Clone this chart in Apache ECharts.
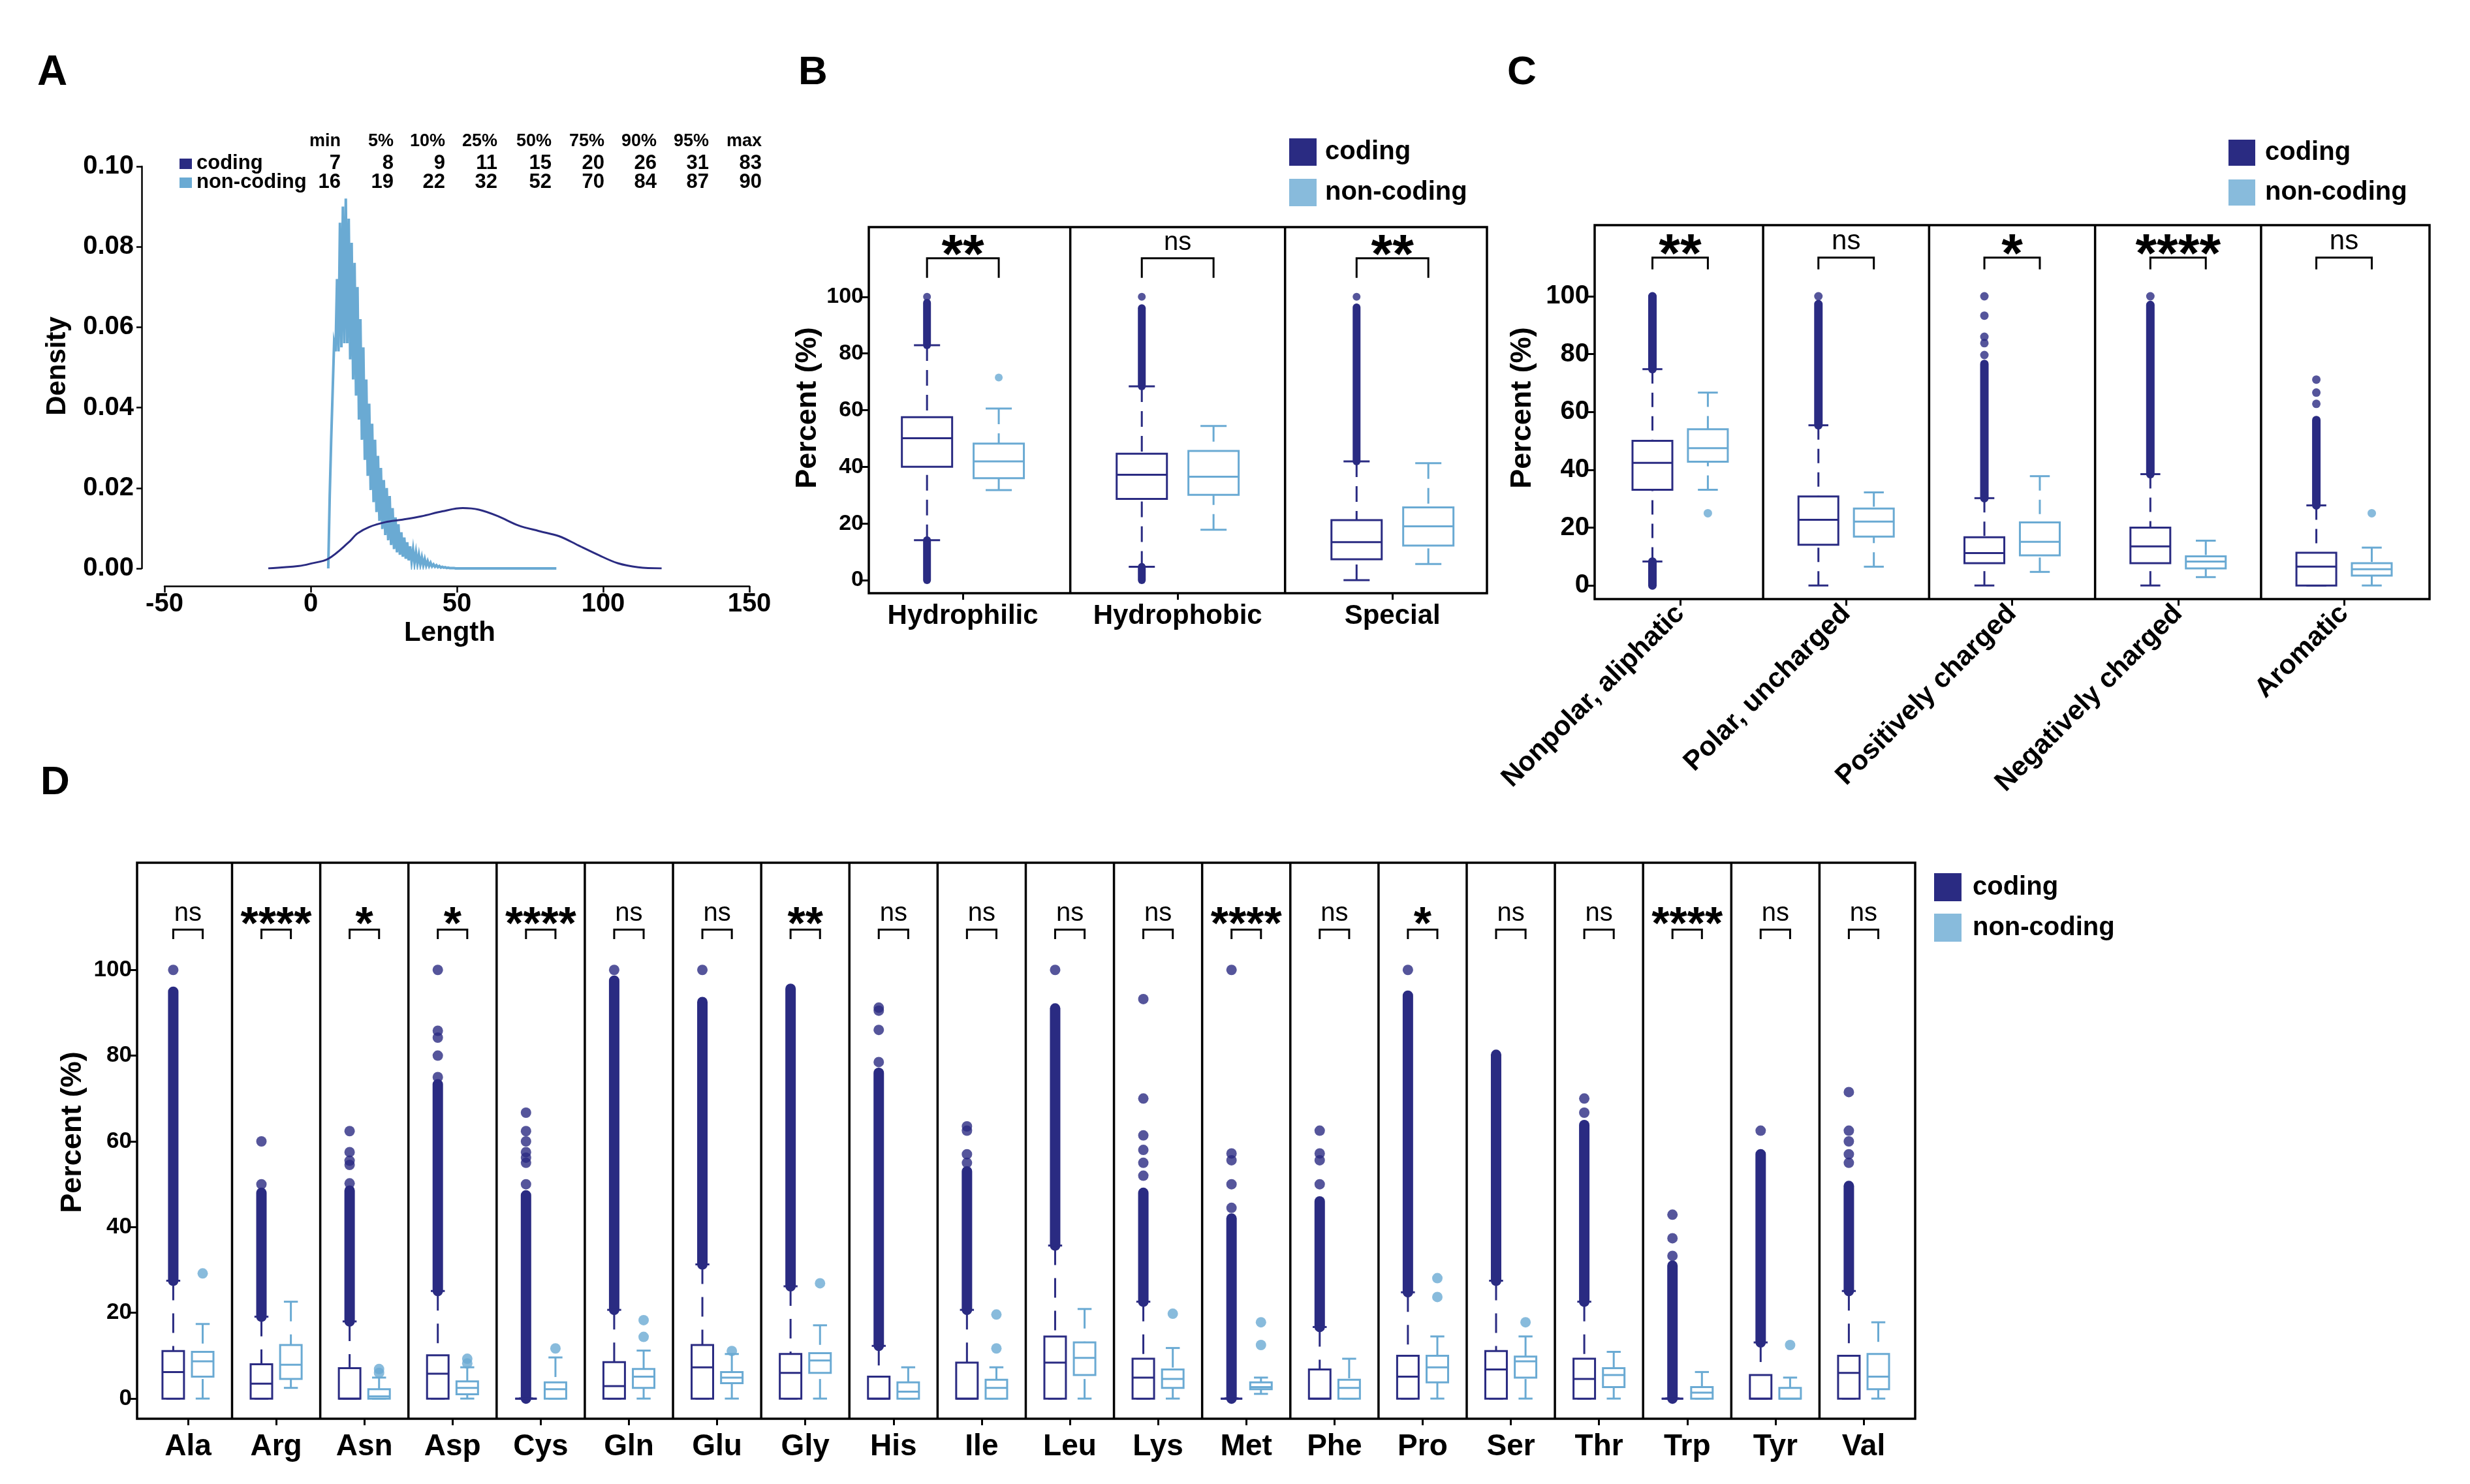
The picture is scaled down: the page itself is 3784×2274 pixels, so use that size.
<!DOCTYPE html>
<html><head><meta charset="utf-8">
<script src="https://cdn.jsdelivr.net/npm/echarts@6/dist/echarts.min.js"></script>
<style>html,body{margin:0;padding:0;background:#fff}#c{width:3784px;height:2274px}</style>
</head><body><div id="c"></div>
<script>
// ================= DATA =================
// Panel A: length distribution table
const statHeaders = ['min','5%','10%','25%','50%','75%','90%','95%','max'];
const codingStats = [7,8,9,11,15,20,26,31,83];
const noncodingStats = [16,19,22,32,52,70,84,87,90];
// Panel A: density curves
const codingDensityX = [-14.5,-4,0,6,13,16,20,25.5,31,38,45,52,57.5,64,71,78,85,91.6,98.5,105,112,120];
const codingDensityY = [0,0.0006,0.0012,0.0024,0.0065,0.0087,0.0103,0.0115,0.0121,0.013,0.0142,0.015,0.0146,0.013,0.0107,0.0093,0.008,0.0057,0.0033,0.0013,0.0003,0];
// non-coding curve oscillates: peaks at whole lengths, troughs between them
const noncodingPeakX = [6,7,8,9,10,11,12,13,14,15,16,17,18,19,20,21,22,23,24,25,26,27,28,29,30,31,32,33,34,35,36,37,38,39,40,41,42,43,44,45,46,47,48,49,50];
const noncodingPeakY = [0,0.032,0.056,0.072,0.086,0.09,0.092,0.087,0.081,0.076,0.07,0.062,0.055,0.047,0.041,0.036,0.032,0.028,0.025,0.022,0.02,0.018,0.015,0.0127,0.011,0.009,0.0077,0.0065,0.0055,0.0047,0.004,0.0034,0.0028,0.0023,0.0018,0.0014,0.001,0.0008,0.0006,0.0004,0.0003,0.0002,0.0001,0.0001,0];
const noncodingTroughX = [6.5,7.5,8.5,9.5,10.5,11.5,12.5,13.5,14.5,15.5,16.5,17.5,18.5,19.5,20.5,21.5,22.5,23.5,24.5,25.5,26.5,27.5,28.5,29.5,30.5,31.5,32.5,33.5,34.5,35.5,36.5,37.5,38.5,39.5,40.5,41.5,42.5,43.5,44.5,45.5,46.5,47.5,48.5,49.5];
const noncodingTroughY = [0.018,0.044,0.054,0.054,0.055,0.056,0.056,0.052,0.047,0.043,0.037,0.032,0.027,0.023,0.0195,0.0165,0.014,0.0118,0.0098,0.0083,0.007,0.0058,0.0048,0.004,0.0034,0.0029,0.0024,0.002,0.0017,0.0014,0.0012,0.001,0.0008,0.0007,0.0006,0.0005,0.0004,0.0003,0.0002,0.0002,0.0001,0.0001,0.0001,0];
const noncodingTailX = [60,84];
const noncodingTailY = [0,0];
const lengthTicks = [-50,0,50,100,150];
const densityTicks = [0,0.02,0.04,0.06,0.08,0.10];
const percentTicks = [0,20,40,60,80,100];

// Panel B  (box: [lower whisker, Q1, median, Q3, upper whisker])
const groupsB = ['Hydrophilic','Hydrophobic','Special'];
const codingBoxB = [[14.1,40,50.1,57.5,82.9],[4.7,28.7,37.2,44.6,68.4],[0,7.4,13.4,21.2,41.9]];
const noncodingBoxB = [[31.8,36,41.9,48.2,60.6],[17.8,30.1,36.5,45.6,54.4],[5.7,12.2,19,25.7,41.3]];
const codingRunsB = [[0,82.9,97.9],[0,0,14.1],[1,68.4,96],[1,0,4.7],[2,41.9,96.3]]; // dense outlier runs [group, from, to]
const codingOutB = [[0,100],[1,100],[2,100]];
const noncodingOutB = [[0,71.5]];
const sigB = ['**','ns','**'];

// Panel C
const groupsC = ['Nonpolar, aliphatic','Polar, uncharged','Positively charged','Negatively charged','Aromatic'];
const codingBoxC = [[8.3,33.1,42.4,50,74.8],[0,14.1,22.7,30.8,55.4],[0,7.7,11.2,16.7,30.2],[0,7.7,13.5,20,38.5],[0,0,6.5,11.3,27.7]];
const noncodingBoxC = [[33.1,42.8,47.5,54,66.7],[6.5,16.9,22.1,26.6,32.2],[4.7,10.4,15.1,21.8,37.8],[2.9,5.9,8.3,10.1,15.5],[0,3.4,5.6,7.7,13.1]];
const codingRunsC = [[0,74.8,100],[0,0,8.3],[1,55.4,97.3],[2,30.2,76.6],[3,38.5,97],[4,27.7,57.2]];
const codingOutC = [[1,100],[2,79.7],[2,83.8],[2,86],[2,93.3],[2,100],[3,100],[4,62.8],[4,66.7],[4,71.2]];
const noncodingOutC = [[0,25],[4,25]];
const sigC = ['**','ns','*','****','ns'];

// Panel D
const groupsD = ['Ala','Arg','Asn','Asp','Cys','Gln','Glu','Gly','His','Ile','Leu','Lys','Met','Phe','Pro','Ser','Thr','Trp','Tyr','Val'];
const codingBoxD = [[0,0,6.2,11.1,27.5],[0,0,3.5,8,19.1],[0,0,0,7.1,18],[0,0,5.8,10.1,25.1],[0,0,0,0,0],
  [0,0,2.9,8.5,20.7],[0,0,7.3,12.5,31.3],[0,0,6,10.4,26.2],[0,0,0,5.1,12.3],[0,0,0,8.4,20.7],
  [0,0,8.4,14.5,35.7],[0,0,4.9,9.3,22.6],[0,0,0,0,0],[0,0,0,6.8,16.7],[0,0,5.1,10,24.8],
  [0,0,6.8,11.1,27.5],[0,0,4.6,9.3,22.6],[0,0,0,0,0],[0,0,0,5.5,13.1],[0,0,6,10,25.1]];
const noncodingBoxD = [[0,5.1,8.7,10.9,17.4],[2.5,4.6,7.9,12.5,22.6],[0,0,0.5,2.2,4.9],[0,1,2.5,4,7.3],[0,0,2.2,3.8,9.6],
  [0,2.5,5.1,6.9,11.2],[0,3.6,4.9,6.2,10.4],[0,6,8.9,10.6,17.1],[0,0,1.6,3.8,7.3],[0,0,2.5,4.4,7.3],
  [0,5.5,9.5,13.1,20.9],[0,2.5,4.6,6.8,11.8],[1.1,2.2,2.7,3.8,4.9],[0,0,2.5,4.4,9.3],[0,3.8,7.3,10,14.5],
  [0,4.9,8.7,9.8,14.5],[0,2.7,5.5,7.1,10.9],[0,0,1.4,2.7,6.2],[0,0,0,2.5,4.9],[0,2.2,5.1,10.4,17.8]];
const codingRunsD = [[0,27.5,94.9],[1,19.1,48],[2,18,48.5],[3,25.1,73.3],[4,0,47.4],[5,20.7,97.5],[6,31.3,92.5],[7,26.2,95.6],[8,12.3,76],[9,20.7,53],
  [10,35.7,91],[11,22.6,48],[12,0,42],[13,16.7,46],[14,24.8,94],[15,27.5,80.2],[16,22.6,63.8],[17,0,31],[18,13.1,57],[19,25.1,49.6]];
const codingOutD = [[0,100],[1,50],[1,60],[2,50.2],[2,54.5],[2,55.5],[2,57.5],[2,62.4],[3,75],[3,80],[3,84.2],[3,85.8],[3,100],
  [4,50],[4,55],[4,56.2],[4,57.5],[4,60],[4,62.4],[4,66.7],[5,100],[6,100],[8,78.5],[8,86],[8,90.5],[8,91.2],
  [9,55],[9,57],[9,62.5],[9,63.5],[10,100],[11,52],[11,55],[11,58],[11,61.4],[11,70],[11,93.2],
  [12,44.5],[12,50],[12,55.6],[12,57.2],[12,100],[13,50],[13,55.6],[13,57.2],[13,62.5],[14,100],
  [16,66.7],[16,70],[17,33.3],[17,37.4],[17,42.9],[18,62.5],[19,55],[19,57],[19,60],[19,62.5],[19,71.5]];
const noncodingOutD = [[0,29.2],[2,6.0],[2,6.9],[3,8.2],[3,9.3],[4,11.7],[5,14.4],[5,18.3],[6,11.1],[7,26.9],[9,11.7],[9,19.6],
  [11,19.8],[12,12.5],[12,17.8],[14,23.7],[14,28.1],[15,17.8],[18,12.5]];
const sigD = ['ns','****','*','*','****','ns','ns','**','ns','ns','ns','ns','****','ns','*','ns','ns','****','ns','ns'];

// ================= STYLE =================
const NAVY = '#2a2b82', LIGHT = '#6aaad3';
const FONT = '"Liberation Sans", Arial, Helvetica, sans-serif';
const OFF = 0.167;

// ================= RENDERERS =================
function boxRenderer(boxW, capFrac, color, lw, dash) {
  return function (params, api) {
    const x = api.value(0);
    const p = [1,2,3,4,5].map(d => api.coord([x, api.value(d)]));
    const [pLo, pQ1, pMed, pQ3, pHi] = p;
    const w = api.size([boxW, 0])[0];
    const cx = pMed[0], cw = w * capFrac;
    const ch = [];
    if (pQ3[1] - pHi[1] > 0.5) ch.push({type:'line', shape:{x1:cx,y1:pHi[1],x2:cx,y2:pQ3[1]}, style:{stroke:color,lineWidth:lw,lineDash:dash}});
    if (pLo[1] - pQ1[1] > 0.5) ch.push({type:'line', shape:{x1:cx,y1:pLo[1],x2:cx,y2:pQ1[1]}, style:{stroke:color,lineWidth:lw,lineDash:dash}});
    ch.push({type:'line', shape:{x1:cx-cw/2,y1:pHi[1],x2:cx+cw/2,y2:pHi[1]}, style:{stroke:color,lineWidth:lw}});
    ch.push({type:'line', shape:{x1:cx-cw/2,y1:pLo[1],x2:cx+cw/2,y2:pLo[1]}, style:{stroke:color,lineWidth:lw}});
    ch.push({type:'rect', shape:{x:cx-w/2,y:pQ3[1],width:w,height:Math.max(pQ1[1]-pQ3[1],0)}, style:{stroke:color,lineWidth:lw,fill:'#fff'}});
    ch.push({type:'line', shape:{x1:cx-w/2,y1:pMed[1],x2:cx+w/2,y2:pMed[1]}, style:{stroke:color,lineWidth:lw}});
    return {type:'group', children: ch};
  };
}
function runRenderer(color, width) {
  return function (params, api) {
    const x = api.value(0);
    const a = api.coord([x, api.value(1)]), b = api.coord([x, api.value(2)]);
    return {type:'line', shape:{x1:a[0],y1:a[1],x2:b[0],y2:b[1]}, style:{stroke:color,lineWidth:width,lineCap:'round'}};
  };
}
function dividerRenderer(params, api) {
  const cs = params.coordSys;
  const x = api.coord([api.value(0), 0])[0];
  return {type:'line', shape:{x1:x,y1:cs.y,x2:x,y2:cs.y+cs.height}, style:{stroke:'#000',lineWidth:3.5}};
}
function sigRenderer(labels, yLeg, yTop, yText, starSize, nsSize) {
  return function (params, api) {
    const i = api.value(0);
    const pL = api.coord([i-OFF, yLeg]), pLT = api.coord([i-OFF, yTop]);
    const pR = api.coord([i+OFF, yLeg]), pRT = api.coord([i+OFF, yTop]);
    const t = api.coord([i, yText]);
    const lab = labels[params.dataIndex];
    const star = lab !== 'ns';
    return {type:'group', children:[
      {type:'polyline', shape:{points:[pL,pLT,pRT,pR]}, style:{stroke:'#000',lineWidth:3,fill:null}},
      {type:'text', x:t[0], y: star ? t[1] + 0.23*starSize : t[1] - 0.09*nsSize,
       style:{text:lab, fontSize: star?starSize:nsSize, fontWeight: star?'bold':'normal', fontFamily:FONT, fill:'#000', align:'center', verticalAlign:'middle'}}
    ]};
  };
}

// ================= BUILDERS =================
const grids = [], xAxes = [], yAxes = [], series = [];
function addBoxPanel(cfg) {
  const gi = grids.length;
  grids.push({left:cfg.left, top:cfg.top, width:cfg.width, height:cfg.height, show:true, borderColor:'#000', borderWidth:3.5, backgroundColor:'transparent'});
  const idx = cfg.groups.map((_, i) => i);
  xAxes.push({type:'value', gridIndex:gi, position:'bottom', min:cfg.xMin, max:cfg.xMax, splitLine:{show:false}, axisLine:{show:false, onZero:false},
    axisTick:{show:true, customValues:idx, length:10, lineStyle:{color:'#000', width:3}},
    axisLabel:{customValues:idx, formatter:v => cfg.groups[Math.round(v)], fontSize:cfg.catFont, fontWeight:'bold', fontFamily:FONT, color:'#000', rotate:cfg.rotate||0, margin:cfg.catMargin}});
  yAxes.push({type:'value', gridIndex:gi, position:'left', min:cfg.yMin, max:cfg.yMax, splitLine:{show:false}, axisLine:{show:false, onZero:false},
    axisTick:{show:true, customValues:percentTicks, length:10, lineStyle:{color:'#000', width:3}},
    axisLabel:{customValues:percentTicks, fontSize:cfg.tickFont, fontWeight:'bold', fontFamily:FONT, color:'#000', margin:8}});
  const common = {xAxisIndex:gi, yAxisIndex:gi, silent:true, animation:false};
  series.push(Object.assign({type:'custom', name:'coding', renderItem:runRenderer(NAVY, cfg.dot), clip:false, itemStyle:{color:NAVY},
    data: cfg.runs.map(r => [r[0]-OFF, r[1], r[2]])}, common));
  series.push(Object.assign({type:'scatter', name:'coding', symbolSize:cfg.dot, itemStyle:{color:NAVY},
    data: cfg.codingOut.map(o => [o[0]-OFF, o[1]])}, common));
  series.push(Object.assign({type:'scatter', name:'non-coding', symbolSize:cfg.dot, itemStyle:{color:LIGHT},
    data: cfg.noncodingOut.map(o => [o[0]+OFF, o[1]])}, common));
  series.push(Object.assign({type:'custom', name:'coding', renderItem:boxRenderer(cfg.boxW, cfg.cap, NAVY, 3, cfg.dash), clip:false, itemStyle:{color:NAVY},
    data: cfg.codingBox.map((b, i) => [i-OFF].concat(b))}, common));
  series.push(Object.assign({type:'custom', name:'non-coding', renderItem:boxRenderer(cfg.boxW, cfg.cap, LIGHT, 3, cfg.dash), clip:false, itemStyle:{color:LIGHT},
    data: cfg.noncodingBox.map((b, i) => [i+OFF].concat(b))}, common));
  series.push(Object.assign({type:'custom', renderItem:dividerRenderer, clip:false,
    data: idx.slice(1).map(i => [i-0.5])}, common));
  series.push(Object.assign({type:'custom', renderItem:sigRenderer(cfg.sig, cfg.sigY[0], cfg.sigY[1], cfg.sigY[2], cfg.starFont, cfg.nsFont), clip:false,
    data: idx.map(i => [i])}, common));
}

// Panel A grid
grids.push({left:252, top:255, width:896, height:616, show:false});
xAxes.push({type:'value', gridIndex:0, position:'bottom', min:-50, max:150, interval:50, offset:27, splitLine:{show:false},
  axisLine:{show:true, onZero:false, lineStyle:{color:'#000', width:2.5}}, axisTick:{show:true, length:10, lineStyle:{color:'#000', width:2.5}},
  axisLabel:{fontSize:40, fontWeight:'bold', fontFamily:FONT, color:'#000', margin:8, customValues:lengthTicks}});
yAxes.push({type:'value', gridIndex:0, position:'left', min:0, max:0.1, interval:0.02, offset:35, splitLine:{show:false},
  axisLine:{show:true, onZero:false, lineStyle:{color:'#000', width:2.5}}, axisTick:{show:true, length:8, lineStyle:{color:'#000', width:2.5}},
  axisLabel:{fontSize:40, fontWeight:'bold', fontFamily:FONT, color:'#000', margin:12, formatter:v => v.toFixed(2), customValues:densityTicks}});
const ncPoints = [];
noncodingPeakX.forEach((x, i) => {
  ncPoints.push([x, noncodingPeakY[i]]);
  if (i < noncodingTroughX.length) ncPoints.push([noncodingTroughX[i], noncodingTroughY[i]]);
});
noncodingTailX.forEach((x, i) => ncPoints.push([x, noncodingTailY[i]]));
series.push({type:'line', name:'non-coding-density', xAxisIndex:0, yAxisIndex:0, showSymbol:false, silent:true, animation:false,
  lineStyle:{color:LIGHT, width:4, join:'miter'}, itemStyle:{color:LIGHT}, data: ncPoints});
series.push({type:'line', name:'coding-density', xAxisIndex:0, yAxisIndex:0, showSymbol:false, silent:true, animation:false, smooth:0.35,
  lineStyle:{color:NAVY, width:3}, itemStyle:{color:NAVY}, data: codingDensityX.map((x, i) => [x, codingDensityY[i]])});

addBoxPanel({left:1331, top:348, width:947, height:561, xMin:-0.438, xMax:2.44, yMin:-4.6, yMax:124.6,
  groups:groupsB, codingBox:codingBoxB, noncodingBox:noncodingBoxB, runs:codingRunsB, codingOut:codingOutB, noncodingOut:noncodingOutB, sig:sigB,
  boxW:0.234, cap:0.52, dot:12, dash:[24,14], catFont:42, catMargin:14, tickFont:34, starFont:84, nsFont:40, sigY:[106.7,113.6,118.2]});
addBoxPanel({left:2443, top:345, width:1279, height:573, xMin:-0.515, xMax:4.515, yMin:-4.7, yMax:124.6,
  groups:groupsC, codingBox:codingBoxC, noncodingBox:noncodingBoxC, runs:codingRunsC, codingOut:codingOutC, noncodingOut:noncodingOutC, sig:sigC,
  boxW:0.24, cap:0.5, dot:13, dash:[22,14], catFont:42, catMargin:16, rotate:45, tickFont:40, starFont:84, nsFont:42, sigY:[109.3,113.4,117.9]});
addBoxPanel({left:210, top:1322, width:2724, height:852, xMin:-0.577, xMax:19.585, yMin:-4.7, yMax:125,
  groups:groupsD, codingBox:codingBoxD, noncodingBox:noncodingBoxD, runs:codingRunsD, codingOut:codingOutD, noncodingOut:noncodingOutD, sig:sigD,
  boxW:0.244, cap:0.65, dot:16, dash:[30,20], catFont:46, catMargin:20, tickFont:35, starFont:70, nsFont:40, sigY:[107.2,109.4,112.6]});

// ================= TEXT / LEGENDS =================
function legendAt(left, top, sq, sqH, gap, pad) {
  return {left, top, orient:'vertical', padding:0, itemWidth:sq, itemHeight:sqH, itemGap:gap, icon:'rect', selectedMode:false,
    data:['coding','non-coding'], textStyle:{fontSize:40, fontWeight:'bold', fontFamily:FONT, color:'#000', padding:[0,0,0,pad]}};
}
const colRight = [522,603,682,762,845,926,1006,1086,1167];
const graphics = [];
function txt(x, y, text, size, opts) {
  opts = opts || {};
  graphics.push({type:'text', x, y, rotation:opts.rot||0, silent:true,
    style:{text, fontSize:size, fontWeight:opts.weight||'bold', fontFamily:FONT, fill:'#000', align:opts.align||'left', verticalAlign:'middle'}});
}
txt(57,112,'A',64); txt(1223,112,'B',62); txt(2309,112,'C',62); txt(62,1200,'D',62);
txt(88,561,'Density',42,{rot:Math.PI/2, align:'center'});
txt(689,970,'Length',42,{align:'center'});
txt(1238,625,'Percent (%)',45,{rot:Math.PI/2, align:'center'});
txt(2333,625,'Percent (%)',45,{rot:Math.PI/2, align:'center'});
txt(112,1735,'Percent (%)',45,{rot:Math.PI/2, align:'center'});
statHeaders.forEach((h, i) => txt(colRight[i], 217, h, 27, {align:'right'}));
codingStats.forEach((v, i) => txt(colRight[i], 250, String(v), 31, {align:'right'}));
noncodingStats.forEach((v, i) => txt(colRight[i], 279, String(v), 31, {align:'right'}));
graphics.push({type:'rect', shape:{x:275,y:243,width:19,height:16}, style:{fill:NAVY}, silent:true});
graphics.push({type:'rect', shape:{x:275,y:272,width:19,height:16}, style:{fill:LIGHT}, silent:true});
txt(301,250,'coding',31); txt(301,279,'non-coding',31);

const chart = echarts.init(document.getElementById('c'), null, {renderer:'canvas'});
chart.setOption({
  animation:false, backgroundColor:'#fff',
  grid: grids, xAxis: xAxes, yAxis: yAxes, series: series,
  legend: [legendAt(1975,212,42,42,20,8), legendAt(3414,214,41,40,21,10), legendAt(2963,1338,42,43,19,12)],
  graphic: graphics
});
</script></body></html>
